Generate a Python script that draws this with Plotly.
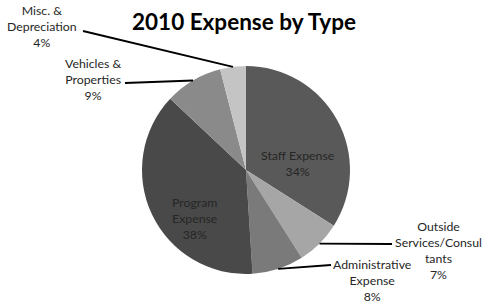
import math
import plotly.graph_objects as go

categories = ["Staff Expense", "Outside Services/Consultants", "Administrative Expense",
              "Program Expense", "Vehicles & Properties", "Misc. & Depreciation"]
values = [34, 7, 8, 38, 9, 4]
label_text = ["Staff Expense", "Outside<br>Services/Consul<br>tants", "Administrative<br>Expense",
              "Program<br>Expense", "Vehicles &<br>Properties", "Misc. &<br>Depreciation"]
colors = ["#595959", "#a6a6a6", "#7a7a7a", "#494949", "#8a8a8a", "#c4c4c4"]

W, H = 483, 303
CX, CY, R = 246, 170, 104  # pie centre / radius in pixels

# label placement (pixels): (text centre x, text centre y, leader end x, leader end y or None)
label_pos = [
    (298, 163, None, None),
    (438, 250, 392, 244),
    (372, 280, 331, 265),
    (195, 218, None, None),
    (93, 80, 125, 83),
    (42, 27, 83, 31),
]

def px(x):
    return x / W

def py(y):
    return 1 - y / H

fig = go.Figure(go.Pie(
    labels=categories, values=values, sort=False, direction="clockwise", rotation=0,
    marker=dict(colors=colors, line=dict(width=0)), textinfo="none", hoverinfo="label+percent",
    showlegend=False,
    domain=dict(x=[px(CX - R), px(CX + R)], y=[py(CY + R), py(CY - R)]),
))

total = sum(values)
annotations = []
shapes = []
cum = 0
for i, v in enumerate(values):
    mid = (cum + v / 2) / total * 2 * math.pi
    cum += v
    pct = round(v / total * 100)
    tx, ty, lx, ly = label_pos[i]
    annotations.append(dict(
        x=px(tx), y=py(ty), xref="paper", yref="paper", showarrow=False,
        text=f"{label_text[i]}<br>{pct}%", align="center", xanchor="center", yanchor="middle",
        font=dict(family="Lato", size=12.3, color="#262626"),
    ))
    if lx is not None:
        ex = CX + R * math.sin(mid)
        ey = CY - R * math.cos(mid)
        shapes.append(dict(type="line", xref="paper", yref="paper",
                           x0=px(ex), y0=py(ey), x1=px(lx), y1=py(ly),
                           line=dict(color="black", width=1.8)))

annotations.append(dict(
    x=px(244), y=py(22), xref="paper", yref="paper", showarrow=False,
    text="<b>2010 Expense by Type</b>", xanchor="center", yanchor="middle",
    font=dict(family="Lato", size=22.5, color="black"),
))

fig.update_layout(
    width=W, height=H, margin=dict(l=0, r=0, t=0, b=0),
    paper_bgcolor="white", plot_bgcolor="white",
    annotations=annotations, shapes=shapes,
)

fig.write_html("out.html", config={"displayModeBar": False},
               post_script="document.body.style.margin='0px';")
